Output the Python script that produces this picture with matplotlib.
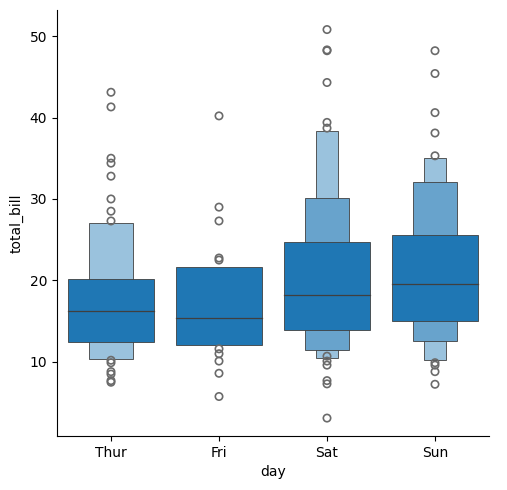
import matplotlib
matplotlib.use("Agg")
import matplotlib.pyplot as plt
from matplotlib.patches import Rectangle
import numpy as np

days = ["Thur", "Fri", "Sat", "Sun"]
medians = [16.2, 15.4, 18.2, 19.6]
# boxen levels (lower, upper), from widest (innermost) to narrowest
levels = [
    [(12.4, 20.2), (10.4, 27.0)],
    [(12.1, 21.7)],
    [(13.9, 24.7), (11.4, 30.1), (10.5, 38.3)],
    [(15.0, 25.6), (12.6, 32.1), (10.2, 35.0)],
]
outliers = [
    [43.1, 41.3, 35.0, 34.4, 32.8, 30.0, 28.5, 27.3, 10.2, 9.9, 8.8, 8.5, 7.7, 7.5],
    [40.2, 29.0, 27.3, 22.75, 22.5, 11.6, 11.0, 10.1, 8.6, 5.75],
    [50.8, 48.3, 48.2, 44.3, 39.4, 38.7, 10.7, 10.1, 9.6, 7.7, 7.3, 3.1],
    [48.2, 45.4, 40.6, 38.1, 35.3, 9.9, 9.6, 8.8, 7.25],
]

base = np.array(matplotlib.colors.to_rgb("#1f77b4"))
widths = [0.8, 0.4, 0.2]

fig = plt.figure(figsize=(5.07, 4.9), dpi=100)
ax = fig.add_axes([57/507, 1-436/490, 432/507, 426/490])
for i, day in enumerate(days):
    lv = levels[i]
    n = len(lv)
    for k in range(n - 1, -1, -1):
        lo, hi = lv[k]
        w = widths[k]
        frac = 0.0 if n == 1 else 0.45 * k / (n - 1) + 0.1 * (k > 0)
        col = base * (1 - frac) + frac * np.ones(3)
        ax.add_patch(Rectangle((i - w/2, lo), w, hi - lo, facecolor=col,
                               edgecolor="#3f3f3f", linewidth=0.6, zorder=2))
    ax.plot([i - 0.4, i + 0.4], [medians[i]] * 2, color="#3f3f3f", lw=0.9, zorder=3)
    ax.scatter([i] * len(outliers[i]), outliers[i], s=28, facecolors="none",
               edgecolors="#6a6a6a", linewidths=1.2, zorder=3)

ax.set_xlim(-0.5, 3.5)
ax.set_ylim(0.9, 53.2)
ax.set_xticks(range(4))
ax.set_xticklabels(days)
ax.set_yticks([10, 20, 30, 40, 50])
ax.set_xlabel("day")
ax.set_ylabel("total_bill")
ax.spines["top"].set_visible(False)
ax.spines["right"].set_visible(False)
fig.savefig("out.png", dpi=100)
